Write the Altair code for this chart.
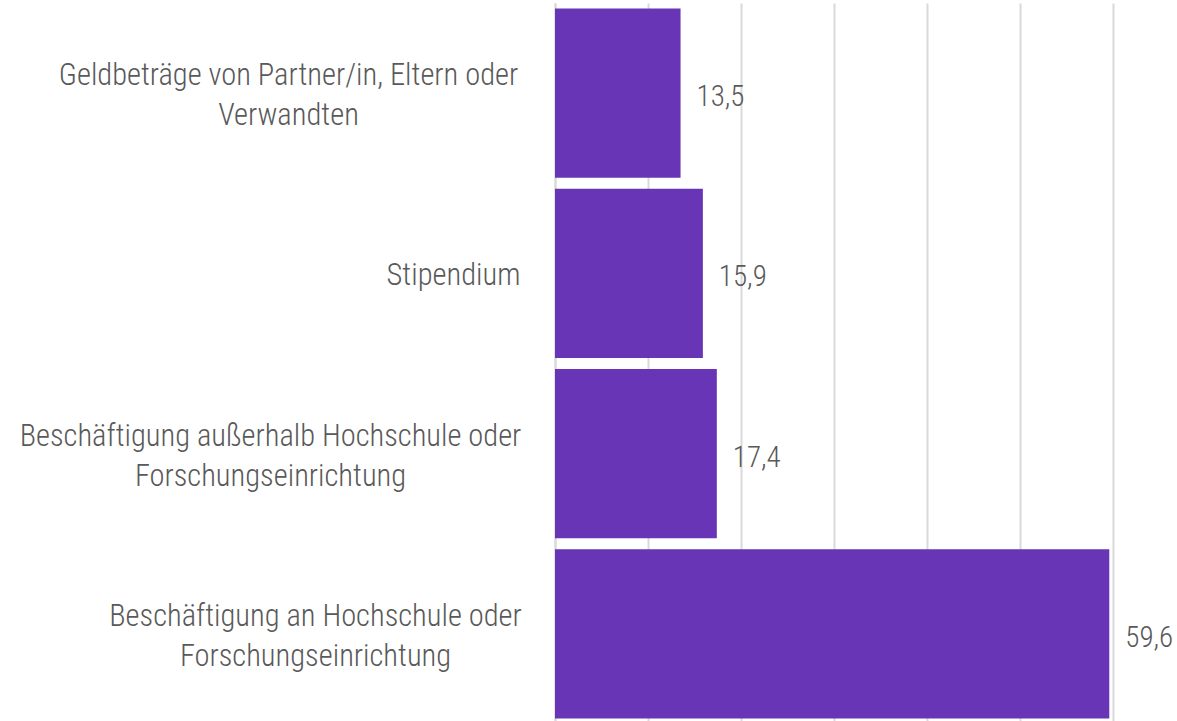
import altair as alt
import pandas as pd

categories = [
    ["Geldbeträge von Partner/in, Eltern oder", "Verwandten"],
    ["Stipendium"],
    ["Beschäftigung außerhalb Hochschule oder", "Forschungseinrichtung"],
    ["Beschäftigung an Hochschule oder", "Forschungseinrichtung"],
]
values = [13.5, 15.9, 17.4, 59.6]
# distance from the axis to the centre of each (centred, multi-line) label
label_centres = [267, 102, 285, 240]
cat_keys = ["|".join(c) for c in categories]

df = pd.DataFrame({"cat": cat_keys, "value": values})
df["label"] = [f"{v:.1f}".replace(".", ",") for v in values]

FONT = "Roboto Condensed, Liberation Sans Narrow, DejaVu Sans Condensed, sans-serif"
GREY = "#595959"

pad_expr = " : ".join(
    f"datum.value === '{k}' ? {p}" for k, p in zip(cat_keys, label_centres)
) + " : 33"
off_expr = "indexof(datum.value, '|') >= 0 ? -17 : 3"

y = alt.Y(
    "cat:N",
    sort=cat_keys,
    title=None,
    scale=alt.Scale(paddingInner=0.06, paddingOuter=0.03),
    axis=alt.Axis(
        labelExpr="split(datum.label, '|')",
        labelFont=FONT,
        labelFontSize=30.5,
        labelFontWeight=300,
        labelColor=GREY,
        labelAlign="center",
        labelPadding={"expr": pad_expr},
        labelOffset={"expr": off_expr},
        labelLineHeight=40,
        labelLimit=0,
        ticks=False,
        domain=True,
        domainColor="#d9d9d9",
        domainWidth=2,
        grid=False,
    ),
)
x = alt.X(
    "value:Q",
    title=None,
    scale=alt.Scale(domain=[0, 60], nice=False),
    axis=alt.Axis(
        values=[0, 10, 20, 30, 40, 50, 60],
        labels=False,
        ticks=False,
        domain=False,
        grid=True,
        gridColor="#d9d9d9",
        gridWidth=2,
    ),
)

bars = alt.Chart(df).mark_bar(color="#6735B5").encode(x=x, y=y)
text = alt.Chart(df).mark_text(
    align="left", baseline="middle", dx=16, dy=4, font=FONT, fontSize=29,
    fontWeight=300, color=GREY
).encode(x=x, y=y, text="label:N")

chart = (
    (bars + text)
    .properties(
        width=558,
        height=721,
        autosize=alt.AutoSizeParams(type="none"),
        padding={"left": 555, "top": 3, "right": 64, "bottom": 0},
        background="white",
    )
    .configure_view(stroke=None)
)

chart.save("out.html", embed_options={"renderer": "svg", "actions": False})
